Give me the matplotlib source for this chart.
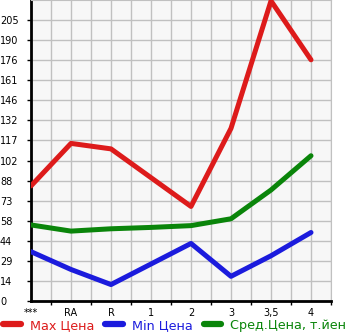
import matplotlib.pyplot as plt
import numpy as np
from matplotlib.ticker import FixedLocator

categories = ['***', 'RA', 'R', '1', '2', '3', '3,5', '4']
max_price = [84, 115, 111, 90, 69, 126, 219, 176]
min_price = [36, 23, 12, 27, 42, 18, 33, 50]
avg_price = [55.5, 51, 52.7, 53.7, 55, 60, 81, 106]
y_labels = ['0', '14', '29', '44', '58', '73', '88', '102', '117', '132',
            '146', '161', '176', '190', '205']

red = '#dd1b1b'
blue = '#1b1bdd'
green = '#0a850a'

fig = plt.figure(figsize=(3.45, 3.35), dpi=100)
ax = fig.add_axes([31 / 345, 1 - 301 / 335, 300 / 345, 301 / 335])
ax.set_facecolor('#f7f7f7')

x = np.arange(len(categories))
ax.plot(x, max_price, color=red, lw=3.6, solid_capstyle='round', zorder=3)
ax.plot(x, min_price, color=blue, lw=3.6, solid_capstyle='round', zorder=3)
ax.plot(x, avg_price, color=green, lw=3.6, solid_capstyle='round', zorder=3)

step = 205 / 14
ax.set_xlim(0, 7.5)
ax.set_ylim(0, 15 * step)

ax.set_xticks(x)
ax.set_xticklabels(categories, fontsize=7)
ax.xaxis.set_minor_locator(FixedLocator(np.arange(0.5, 7.6, 1.0)))
ax.tick_params(axis='x', which='major', length=0, pad=5)
ax.tick_params(axis='x', which='minor', length=3, width=1, color='black')

yt = np.arange(15) * step
ax.set_yticks(yt)
ax.set_yticklabels(y_labels, fontsize=7, ha='left')
ax.tick_params(axis='y', length=3, width=1, pad=19.4)

ax.grid(True, which='both', color='#c0c0c0', lw=1)
ax.set_axisbelow(True)
for s in ['top', 'right']:
    ax.spines[s].set_color('#c0c0c0')
for s in ['left', 'bottom']:
    ax.spines[s].set_linewidth(2)
    ax.spines[s].set_color('black')

handles = [plt.Line2D([], [], color=c, lw=4.5, solid_capstyle='round') for c in (red, blue, green)]
leg = fig.legend(handles, ['Max Цена', 'Min Цена', 'Сред.Цена, т.йен'],
                 loc='lower left', bbox_to_anchor=(3 / 345, 0.01), ncol=3,
                 frameon=False, fontsize=9.2, handlelength=1.4, handletextpad=0.7,
                 columnspacing=0.85, borderpad=0, borderaxespad=0)
for t, c in zip(leg.get_texts(), (red, blue, green)):
    t.set_color(c)

fig.savefig('out.png', dpi=100)
